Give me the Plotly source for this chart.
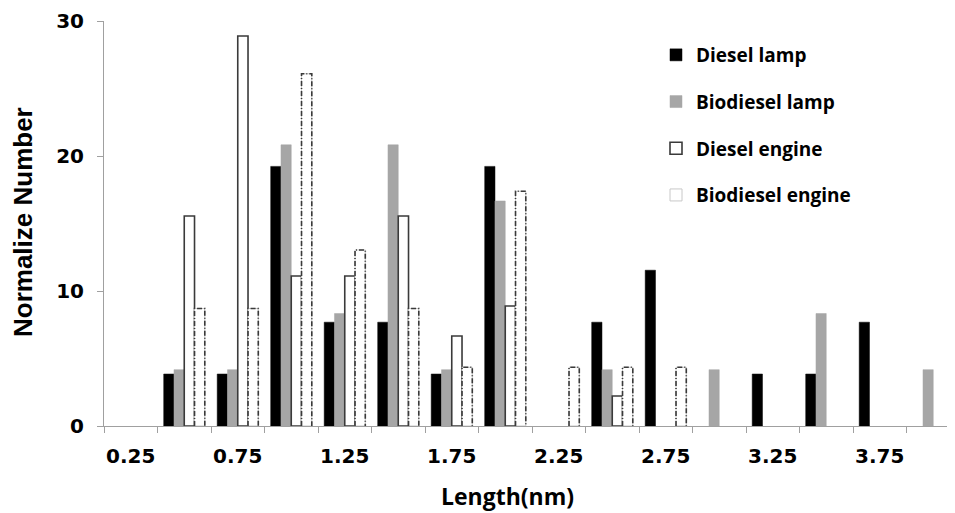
import plotly.graph_objects as go

# ---- data ----
lengths = [0.25, 0.5, 0.75, 1.0, 1.25, 1.5, 1.75, 2.0, 2.25, 2.5, 2.75, 3.0, 3.25, 3.5, 3.75, 4.0]
tick_labels = ["0.25", "0.75", "1.25", "1.75", "2.25", "2.75", "3.25", "3.75"]
tick_positions = [0.25, 0.75, 1.25, 1.75, 2.25, 2.75, 3.25, 3.75]

diesel_lamp = [0, 3.85, 3.85, 19.23, 7.69, 7.69, 3.85, 19.23, 0, 7.69, 11.54, 0, 3.85, 3.85, 7.69, 0]
biodiesel_lamp = [0, 4.17, 4.17, 20.83, 8.33, 20.83, 4.17, 16.67, 0, 4.17, 0, 4.17, 0, 8.33, 0, 4.17]
diesel_engine = [0, 15.56, 28.89, 11.11, 11.11, 15.56, 6.67, 8.89, 0, 2.22, 0, 0, 0, 0, 0, 0]
biodiesel_engine = [0, 8.70, 8.70, 26.09, 13.04, 8.70, 4.35, 17.39, 4.35, 4.35, 4.35, 0, 0, 0, 0, 0]

series_names = ["Diesel lamp", "Biodiesel lamp", "Diesel engine", "Biodiesel engine"]

# ---- style ----
BAR_W = 0.048
offsets = [(i - 2) * BAR_W for i in range(4)]
fills = ["#000000", "#a6a6a6", "#ffffff", "#ffffff"]
edges = ["#000000", "#a6a6a6", "#3a3a3a", "#c8c8c8"]
edge_w = [0.5, 0.5, 1.6, 1.0]

# page is drawn with an 8px body margin; the figure is sized to fill the rest
FIG_W, FIG_H = 947, 505
L, T, B = 96, 13, 87
plot_w = FIG_W - L
plot_h = FIG_H - T - B
CAT_PX = 53.5


def px_x(page_x):
    return (page_x - 8 - L) / plot_w


def px_y(page_y):
    return (FIG_H - B - (page_y - 8)) / plot_h


fig = go.Figure()
for i, (name, vals) in enumerate(zip(series_names,
                                       [diesel_lamp, biodiesel_lamp, diesel_engine, biodiesel_engine])):
    fig.add_trace(go.Bar(
        x=lengths, y=[v if v > 0 else None for v in vals], name=name,
        offset=offsets[i], width=BAR_W,
        marker=dict(color=fills[i], line=dict(color=edges[i], width=edge_w[i])),
        legendgroup=name,
    ))

# dash-dot outline for the Biodiesel engine bars (derived from the data arrays)
ox, oy = [], []
for xv, v in zip(lengths, biodiesel_engine):
    if v > 0:
        x0 = xv + offsets[3]
        x1 = x0 + BAR_W
        ox += [x0, x0, x1, x1, None]
        oy += [0, v, v, 0, None]
fig.add_trace(go.Scatter(
    x=ox, y=oy, mode="lines", showlegend=False, hoverinfo="skip",
    line=dict(color="#3a3a3a", width=1.6, dash="5px,2px,1px,2px"),
))

x_end = 0.125 + plot_w / CAT_PX * 0.25

fig.update_layout(
    width=FIG_W, height=FIG_H,
    margin=dict(l=L, r=0, t=T, b=B, pad=0),
    paper_bgcolor="white", plot_bgcolor="white",
    barmode="overlay",
    showlegend=True,
    legend=dict(
        x=px_x(656), y=px_y(36), xanchor="left", yanchor="top",
        font=dict(family="Open Sans", size=19, color="#000000", weight="bold"),
        tracegroupgap=19, bgcolor="rgba(0,0,0,0)",
    ),
    xaxis=dict(
        range=[0.125, x_end],
        tickmode="array", tickvals=tick_positions, ticktext=tick_labels,
        ticks="outside", ticklen=12, tickcolor="rgba(0,0,0,0)",
        tickfont=dict(family="DejaVu Sans", size=20, color="#000000", weight="bold"),
        showline=True, linecolor="#a0a0a0", linewidth=1,
        showgrid=False, zeroline=False,
        minor=dict(tickmode="linear", tick0=0.125, dtick=0.25,
                   ticks="outside", ticklen=6, tickcolor="#a0a0a0", showgrid=False),
    ),
    yaxis=dict(
        range=[0, 30], tickvals=[0, 10, 20, 30],
        ticks="outside", ticklen=6, tickcolor="#a0a0a0",
        ticklabelstandoff=9,
        tickfont=dict(family="DejaVu Sans", size=20, color="#000000", weight="bold"),
        showline=True, linecolor="#a0a0a0", linewidth=1,
        showgrid=False, zeroline=False,
    ),
    annotations=[
        dict(text="Length(nm)", xref="paper", yref="paper",
             x=px_x(507), y=px_y(496),
             xanchor="center", yanchor="middle", showarrow=False,
             font=dict(family="Open Sans", size=23, color="#000000", weight="bold")),
        dict(text="Normalize Number", xref="paper", yref="paper",
             x=px_x(23), y=px_y(222), textangle=-90,
             xanchor="center", yanchor="middle", showarrow=False,
             font=dict(family="Liberation Sans", size=26, color="#000000", weight="bold")),
    ],
)

fig.write_html("out.html")
